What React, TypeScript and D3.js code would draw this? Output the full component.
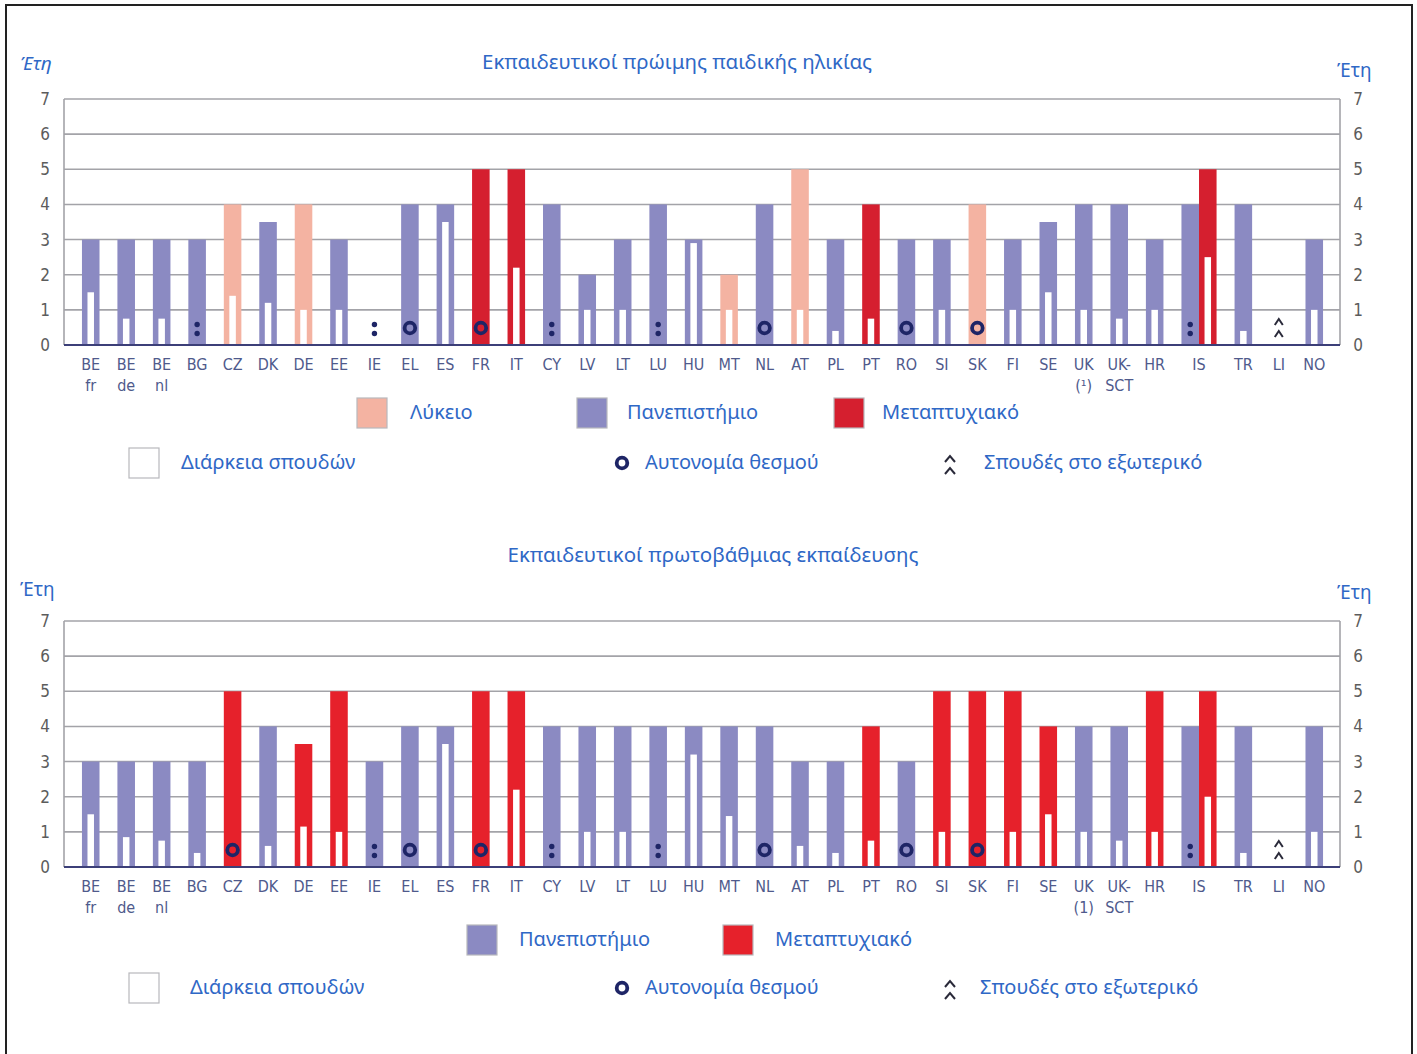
import * as d3 from "d3";

// --- data -------------------------------------------------------------
const countries = ["BE", "BE", "BE", "BG", "CZ", "DK", "DE", "EE", "IE", "EL", "ES", "FR", "IT", "CY", "LV", "LT", "LU", "HU", "MT", "NL", "AT", "PL", "PT", "RO", "SI", "SK", "FI", "SE", "UK", "UK-", "HR", "IS", "TR", "LI", "NO"];
const ecSubLabels = ["fr", "de", "nl", "", "", "", "", "", "", "", "", "", "", "", "", "", "", "", "", "", "", "", "", "", "", "", "", "", "(¹)", "SCT", "", "", "", "", ""];
const prSubLabels = ["fr", "de", "nl", "", "", "", "", "", "", "", "", "", "", "", "", "", "", "", "", "", "", "", "", "", "", "", "", "", "(1)", "SCT", "", "", "", "", ""];
const yTicks = [0, 1, 2, 3, 4, 5, 6, 7];

// L = Λύκειο, U = Πανεπιστήμιο, M = Μεταπτυχιακό
const ecLevels = [["U"], ["U"], ["U"], ["U"], ["L"], ["U"], ["L"], ["U"], [], ["U"], ["U"], ["M"], ["M"], ["U"], ["U"], ["U"], ["U"], ["U"], ["L"], ["U"], ["L"], ["U"], ["M"], ["U"], ["U"], ["L"], ["U"], ["U"], ["U"], ["U"], ["U"], ["U", "M"], ["U"], [], ["U"]];
const ecYears = [[3], [3], [3], [3], [4], [3.5], [4], [3], [], [4], [4], [5], [5], [4], [2], [3], [4], [3], [2], [4], [5], [3], [4], [3], [3], [4], [3], [3.5], [4], [4], [3], [4, 5], [4], [], [3]];
const ecPractice = [[1.5], [0.75], [0.75], [null], [1.4], [1.2], [1], [1], [], [null], [3.5], [null], [2.2], [null], [1], [1], [null], [2.9], [1], [null], [1], [0.4], [0.75], [null], [1], [null], [1], [1.5], [1], [0.75], [1], [null, 2.5], [0.4], [], [1]];
const ecMarks = ["", "", "", ":", "", "", "", "", ":", "o", "", "o", "", ":", "", "", ":", "", "", "o", "", "", "", "o", "", "o", "", "", "", "", "", ":", "", "^", ""];

const prLevels = [["U"], ["U"], ["U"], ["U"], ["M"], ["U"], ["M"], ["M"], ["U"], ["U"], ["U"], ["M"], ["M"], ["U"], ["U"], ["U"], ["U"], ["U"], ["U"], ["U"], ["U"], ["U"], ["M"], ["U"], ["M"], ["M"], ["M"], ["M"], ["U"], ["U"], ["M"], ["U", "M"], ["U"], [], ["U"]];
const prYears = [[3], [3], [3], [3], [5], [4], [3.5], [5], [3], [4], [4], [5], [5], [4], [4], [4], [4], [4], [4], [4], [3], [3], [4], [3], [5], [5], [5], [4], [4], [4], [5], [4, 5], [4], [], [4]];
const prPractice = [[1.5], [0.85], [0.75], [0.4], [null], [0.6], [1.15], [1], [null], [null], [3.5], [null], [2.2], [null], [1], [1], [null], [3.2], [1.45], [null], [0.6], [0.4], [0.75], [null], [1], [null], [1], [1.5], [1], [0.75], [1], [null, 2], [0.4], [], [1]];
const prMarks = ["", "", "", "", "o", "", "", "", ":", "o", "", "o", "", ":", "", "", ":", "", "", "o", "", "", "", "o", "", "o", "", "", "", "", "", ":", "", "^", ""];

// --- styles -----------------------------------------------------------
const PINK = "#f4b3a2";
const PURPLE = "#8b8ac2";
const NAVY = "#1e2566";
const BLUE = "#2f68c6";
const GRID = "#a3a3a8";
const LABEL_FONT = "'DejaVu Sans Condensed', 'Liberation Sans Narrow', sans-serif";
const TEXT_FONT = "'Noto Sans', 'Open Sans', sans-serif";

// slot widths: one slot per country, half a slot more for each extra bar
const slotWidth = ecLevels.map((b) => 1 + 0.5 * Math.max(0, b.length - 1));
const slotStart = d3.cumsum([0, ...slotWidth]);
const totalSlots = slotStart[slotStart.length - 1];

const x = d3.scaleLinear().domain([0, totalSlots]).range([73, 1332]);
const barW = x(0.495) - x(0);
const innerW = 6.5;

function Marker({ kind, cx, y0, big }: { kind: string; cx: number; y0: number; big?: boolean }) {
  if (kind === ":")
    return (
      <g fill={NAVY}>
        <circle cx={cx} cy={y0 - 20.5} r={2.7} />
        <circle cx={cx} cy={y0 - 11.5} r={2.7} />
      </g>
    );
  if (kind === "o")
    return <circle cx={cx} cy={y0 - 17} r={5.3} fill="none" stroke={NAVY} strokeWidth={3.8} />;
  if (kind === "^") {
    const w = big ? 5 : 4;
    return (
      <g fill="none" stroke="#2a2a3a" strokeWidth={2}>
        <polyline points={`${cx - w},${y0 - 20} ${cx},${y0 - 26} ${cx + w},${y0 - 20}`} />
        <polyline points={`${cx - w},${y0 - 8} ${cx},${y0 - 14} ${cx + w},${y0 - 8}`} />
      </g>
    );
  }
  return null;
}

type PanelProps = {
  yBottom: number;
  levels: string[][];
  years: number[][];
  practice: (number | null)[][];
  marks: string[];
  subLabels: string[];
  red: string;
  title: string;
  titleX: number;
  titleY: number;
  leftUnitY: number;
  rightUnitY: number;
  leftItalic: boolean;
};

function Panel(p: PanelProps) {
  const y = d3.scaleLinear().domain([0, 7]).range([p.yBottom, p.yBottom - 246]);
  const colors: Record<string, string> = { L: PINK, U: PURPLE, M: p.red };
  const y0 = y(0);
  return (
    <g>
      <text x={p.titleX} y={p.titleY} textAnchor="middle" fill={BLUE} fontFamily={TEXT_FONT} fontSize={20.5}>
        {p.title}
      </text>
      <text x={20} y={p.leftUnitY} fill={BLUE} fontFamily={TEXT_FONT} fontSize={19} fontStyle={p.leftItalic ? "italic" : "normal"}>
        Έτη
      </text>
      <text x={1337} y={p.rightUnitY} fill={BLUE} fontFamily={TEXT_FONT} fontSize={19}>
        Έτη
      </text>
      {yTicks.map((t) => (
        <g key={t}>
          {t > 0 && <line x1={64} x2={1340} y1={y(t)} y2={y(t)} stroke={GRID} strokeWidth={1.6} />}
          <text x={45} y={y(t) + 6} textAnchor="middle" fill="#5c5c5c" fontFamily={LABEL_FONT} fontSize={17}>
            {t}
          </text>
          <text x={1358} y={y(t) + 6} textAnchor="middle" fill="#5c5c5c" fontFamily={LABEL_FONT} fontSize={17}>
            {t}
          </text>
        </g>
      ))}
      <line x1={64} x2={64} y1={y(7)} y2={y0} stroke={GRID} strokeWidth={1.6} />
      <line x1={1340} x2={1340} y1={y(7)} y2={y0} stroke={GRID} strokeWidth={1.6} />
      {countries.map((c, i) => {
        const center = x(slotStart[i] + slotWidth[i] / 2);
        const n = p.levels[i].length;
        const firstLeft = center - (n * barW) / 2;
        return (
          <g key={i}>
            {p.levels[i].map((lv, j) => {
              const left = firstLeft + j * barW;
              const v = p.years[i][j];
              const pr = p.practice[i][j];
              return (
                <g key={j}>
                  <rect x={left} y={y(v)} width={barW} height={y0 - y(v)} fill={colors[lv]} />
                  {pr != null && (
                    <rect x={left + (barW - innerW) / 2} y={y(pr)} width={innerW} height={y0 - y(pr)} fill="#fff" />
                  )}
                </g>
              );
            })}
            <Marker kind={p.marks[i]} cx={n > 0 ? firstLeft + barW / 2 : center} y0={y0} />
            <text x={center} y={y0 + 25} textAnchor="middle" fill="#4f5a8c" fontFamily={LABEL_FONT} fontSize={16}>
              {c}
            </text>
            {p.subLabels[i] && (
              <text x={center} y={y0 + 46} textAnchor="middle" fill="#4f5a8c" fontFamily={LABEL_FONT} fontSize={16}>
                {p.subLabels[i]}
              </text>
            )}
          </g>
        );
      })}
      <line x1={64} x2={1340} y1={y0} y2={y0} stroke="#3c3f78" strokeWidth={2} />
    </g>
  );
}

function Swatch({ x0, cy, fill }: { x0: number; cy: number; fill: string }) {
  return <rect x={x0} y={cy - 15} width={30} height={30} fill={fill} stroke="#b8b8bc" strokeWidth={1.2} />;
}

function LegendText({ x0, cy, children }: { x0: number; cy: number; children: string }) {
  return (
    <text x={x0} y={cy + 6} fill={BLUE} fontFamily={TEXT_FONT} fontSize={20}>
      {children}
    </text>
  );
}

function Legend({ row1, row2, items }: { row1: number; row2: number; items: { fill: string; label: string; sx: number; tx: number }[] }) {
  return (
    <g>
      {items.map((it) => (
        <g key={it.label}>
          <Swatch x0={it.sx} cy={row1} fill={it.fill} />
          <LegendText x0={it.tx} cy={row1}>{it.label}</LegendText>
        </g>
      ))}
      <Swatch x0={129} cy={row2} fill="#fff" />
      <LegendText x0={row2 > 900 ? 190 : 181} cy={row2}>Διάρκεια σπουδών</LegendText>
      <Marker kind="o" cx={622} y0={row2 + 17} />
      <LegendText x0={645} cy={row2}>Αυτονομία θεσμού</LegendText>
      <Marker kind="^" cx={950} y0={row2 + 19} big />
      <LegendText x0={row2 > 900 ? 980 : 984} cy={row2}>Σπουδές στο εξωτερικό</LegendText>
    </g>
  );
}

export default function App() {
  return (
    <div style={{ position: "absolute", left: 0, top: 0 }}>
      <svg width={1417} height={1054} style={{ display: "block", background: "#fff" }}>
        <path d="M6,1054 V5 H1412 V1054" fill="none" stroke="#222" strokeWidth={2} />
        <Panel
          yBottom={345}
          levels={ecLevels}
          years={ecYears}
          practice={ecPractice}
          marks={ecMarks}
          subLabels={ecSubLabels}
          red="#d51f2f"
          title="Εκπαιδευτικοί πρώιμης παιδικής ηλικίας"
          titleX={677}
          titleY={69}
          leftUnitY={70}
          rightUnitY={77}
          leftItalic={true}
        />
        <Legend
          row1={413}
          row2={463}
          items={[
            { fill: PINK, label: "Λύκειο", sx: 357, tx: 410 },
            { fill: PURPLE, label: "Πανεπιστήμιο", sx: 577, tx: 627 },
            { fill: "#d51f2f", label: "Μεταπτυχιακό", sx: 834, tx: 882 },
          ]}
        />
        <Panel
          yBottom={867}
          levels={prLevels}
          years={prYears}
          practice={prPractice}
          marks={prMarks}
          subLabels={prSubLabels}
          red="#e6212b"
          title="Εκπαιδευτικοί πρωτοβάθμιας εκπαίδευσης"
          titleX={713}
          titleY={562}
          leftUnitY={596}
          rightUnitY={599}
          leftItalic={false}
        />
        <Legend
          row1={940}
          row2={988}
          items={[
            { fill: PURPLE, label: "Πανεπιστήμιο", sx: 467, tx: 519 },
            { fill: "#e6212b", label: "Μεταπτυχιακό", sx: 723, tx: 775 },
          ]}
        />
      </svg>
    </div>
  );
}
